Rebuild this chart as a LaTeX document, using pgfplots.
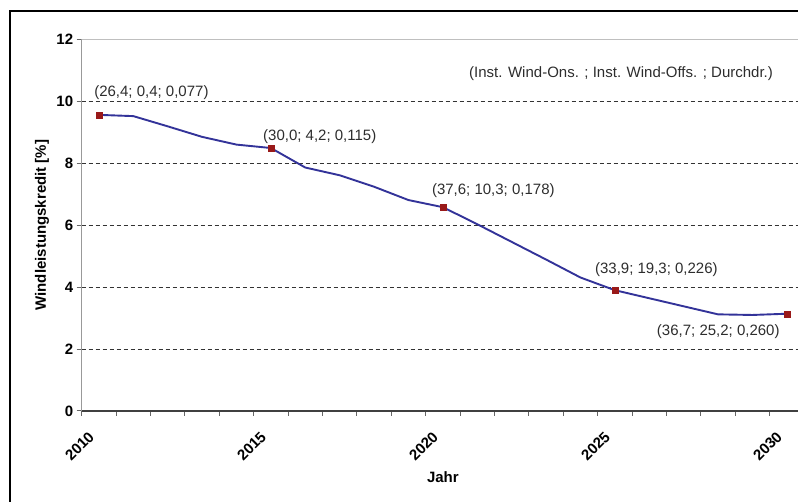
\documentclass[border=0pt]{standalone}
\usepackage{pgfplots}
\pgfplotsset{compat=1.18}
\usepackage{fontspec}
\setmainfont{Liberation Sans}
\definecolor{linieblau}{RGB}{51,51,153}
\definecolor{punktrot}{RGB}{153,25,25}
\definecolor{textgrau}{RGB}{45,45,45}

\begin{document}
\begin{tikzpicture}[x=1pt,y=1pt]
\useasboundingbox (0,0) rectangle (798,502);
\clip (0,0) rectangle (798,502);
% outer frame (cut at right and bottom)
\draw[line width=2pt] (10,-100) -- (10,491) -- (900,491);
\begin{axis}[
    at={(81.7pt,91pt)}, anchor=south west,
    width=722.3pt, height=371.7pt, scale only axis,
    xmin=2009.5, xmax=2030.5,
    ymin=0, ymax=12,
    axis lines*=left,
    x axis line style={black!75, line width=1.4pt},
    y axis line style={black!40, line width=1.2pt},
    tick align=outside,
    major tick length=5pt,
    tick style={black!60, line width=1pt},
    xtick={2009.5,2010.5,...,2030.5},
    xticklabels={},
    extra x ticks={2010,2015,2020,2025,2030},
    extra x tick labels={2010,2015,2020,2025,2030},
    extra x tick style={major tick length=0pt,
        xticklabel style={xshift=-5pt, yshift=-21pt, rotate=45, anchor=east}},
    ytick={0,2,...,12},
    ymajorgrids=true,
    grid style={black!80, line width=0.8pt, dash pattern=on 4pt off 3pt},
    tick label style={font=\fontsize{15}{18}\selectfont\bfseries, text=black},
    /pgf/number format/assume math mode=true,
    xlabel={Jahr},
    ylabel={Windleistungskredit [\%]},
    every axis x label/.style={at={(axis cs:2020,-2.13)}, anchor=center,
        font=\fontsize{15}{18}\selectfont\bfseries},
    every axis y label/.style={at={(axis cs:2008.35,6)}, rotate=90, anchor=center,
        font=\fontsize{15}{18}\selectfont\bfseries},
    clip=false,
]
\draw[black!25, line width=1pt] (rel axis cs:0,1) -- (rel axis cs:1,1);

\addplot[linieblau, line width=1.9pt, mark=none] coordinates {
    (2010,9.56) (2011,9.52) (2012,9.19) (2013,8.85) (2014,8.60)
    (2015,8.49) (2016,7.86) (2017,7.61) (2018,7.24) (2019,6.81)
    (2020,6.58) (2021,6.03) (2022,5.46) (2023,4.89) (2024,4.31)
    (2025,3.90) (2026,3.64) (2027,3.38) (2028,3.12) (2029,3.10)
    (2030,3.14)
};
\addplot[only marks, mark=square*, mark size=3pt,
    mark options={fill=punktrot, draw=punktrot}] coordinates {
    (2010,9.56) (2015,8.49) (2020,6.58) (2025,3.90) (2030,3.14)
};

\begin{scope}[every node/.style={anchor=west, inner sep=0pt, text=textgrau,
        font=\fontsize{15}{18}\selectfont}]
\node at (axis cs:2009.86,10.29) {(26,4; 0,4; 0,077)};
\node at (axis cs:2014.77,8.87) {(30,0; 4,2; 0,115)};
\node at (axis cs:2019.68,7.10) {(37,6; 10,3; 0,178)};
\node at (axis cs:2024.42,4.55) {(33,9; 19,3; 0,226)};
\node at (axis cs:2026.22,2.55) {(36,7; 25,2; 0,260)};
\node at (axis cs:2020.76,10.90) {(Inst. Wind-Ons. ; Inst. Wind-Offs. ; Durchdr.)};
\end{scope}
\end{axis}
\end{tikzpicture}
\end{document}
